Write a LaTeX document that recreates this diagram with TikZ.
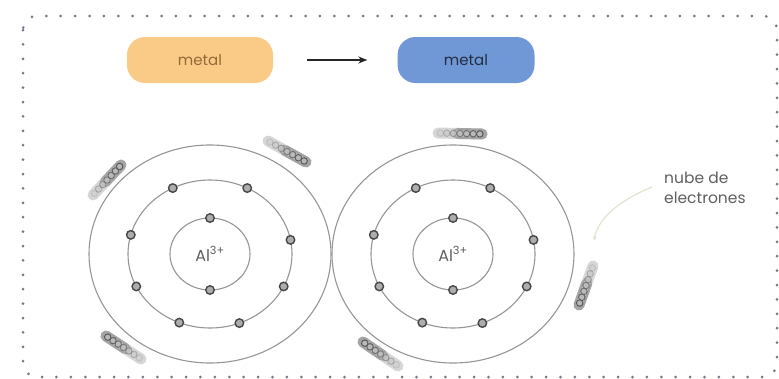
\documentclass[tikz,border=0pt]{standalone}
\usepackage{fontspec}
\setmainfont{Poppins}
\usetikzlibrary{calc,arrows.meta}
\definecolor{framedot}{RGB}{125,118,135}
\definecolor{orangebox}{RGB}{250,202,135}
\definecolor{bluebox}{RGB}{112,152,214}
\definecolor{orbitgray}{RGB}{150,150,150}
\definecolor{labelgray}{RGB}{95,95,95}
\definecolor{pointer}{RGB}{228,228,205}

\tikzset{
  pill/.style={rounded corners=18pt, minimum width=#1, minimum height=46pt, inner sep=0pt, font=\fontsize{15}{17}\selectfont},
  orbit/.style={draw=orbitgray, line width=1.1pt},
  electron/.style={circle, draw=black!72, fill=black!32, line width=1.4pt, inner sep=0pt, minimum size=8.5pt},
  trailbead/.style={circle, draw=black!65, fill=black!28, line width=1pt, inner sep=0pt, minimum size=6.5pt},
  frame/.style={draw=framedot, line width=3pt, line cap=round, dash pattern=on 0pt off 14.4pt, rounded corners=14pt},
  ionlabel/.style={text=labelgray, font=\fontsize{16}{18}\selectfont},
}

% a blurred trail of electrons, from its faint end #1 to its sharp end #2
\newcommand\etrail[2]{%
  \draw[line width=11pt, line cap=round, draw=black!45, opacity=0.35] (#1) -- (#2);
  \draw[line width=11pt, line cap=round, draw=black!55, opacity=0.5] ($(#1)!0.45!(#2)$) -- (#2);
  \draw[line width=6pt, line cap=round, draw=black!15, opacity=0.6] ($(#1)!0.1!(#2)$) -- ($(#1)!0.95!(#2)$);
  \foreach \t/\o in {0.05/0.15,0.2/0.3,0.35/0.45,0.5/0.6,0.65/0.75,0.8/0.88,0.95/1}{
    \node[trailbead, opacity=\o] at ($(#1)!\t!(#2)$) {};
  }%
}

\begin{document}
\begin{tikzpicture}[x=1pt,y=-1pt]
\useasboundingbox (0,0) rectangle (779,378);
\fill[white] (0,0) rectangle (779,378);

% dotted frame
\draw[frame] (23,16) rectangle (777,377);

% the two metal labels and the arrow between them
\node[pill=146pt, fill=orangebox, text=black!65!orangebox!40!brown] (mA) at (200,60) {metal};
\node[pill=137pt, fill=bluebox, text=black!70!bluebox] (mB) at (466,60) {metal};
\draw[-{Stealth[length=9pt,width=7pt]}, line width=1.4pt, black!85, shorten <=34pt, shorten >=30pt] (mA) -- (mB);

% atom centres
\coordinate (cL) at (210,254);
\coordinate (cR) at (453,254);

% orbits
\foreach \c in {cL,cR}{
  \draw[orbit] (\c) ellipse [x radius=121, y radius=109];
  \draw[orbit] (\c) ellipse [x radius=82, y radius=74];
  \draw[orbit] (\c) ellipse [x radius=40, y radius=36];
  \foreach \a in {-63,-117,-165,154,112,69,26,-11}{
    \node[electron] at ($(\c)+(\a:82 and 74)$) {};
  }
  \node[electron] at ($(\c)+(0,-36)$) {};
  \node[electron] at ($(\c)+(0,36)$) {};
}

\node[ionlabel] (ionL) at (cL) {Al\textsuperscript{3+}};
\node[ionlabel] (ionR) at (cR) {Al\textsuperscript{3+}};

% electron trails around the outer shells
\coordinate (a1) at (93,195);  \coordinate (a2) at (121,165);
\coordinate (b1) at (268,141); \coordinate (b2) at (306,162);
\coordinate (c1) at (141,359); \coordinate (c2) at (106,336);
\coordinate (d1) at (438,133); \coordinate (d2) at (482,134);
\coordinate (e1) at (593,266); \coordinate (e2) at (579,305);
\coordinate (f1) at (398,366); \coordinate (f2) at (363,342);
\etrail{a1}{a2}
\etrail{b1}{b2}
\etrail{c1}{c2}
\etrail{d1}{d2}
\etrail{e1}{e2}
\etrail{f1}{f2}

% electron cloud label
\node[anchor=north west, align=left, text=labelgray, inner sep=0pt,
      font=\fontsize{15.5}{20}\selectfont] (cloud) at (664,172) {nube de\\electrones};
\coordinate (cloudtip) at (594,241);
\draw[pointer, line width=1.2pt, -{Stealth[length=5pt,width=4pt]}]
  ($(cloud.north west)+(-12,15)$) .. controls (620,200) and (598,218) .. (cloudtip);
\end{tikzpicture}
\end{document}
